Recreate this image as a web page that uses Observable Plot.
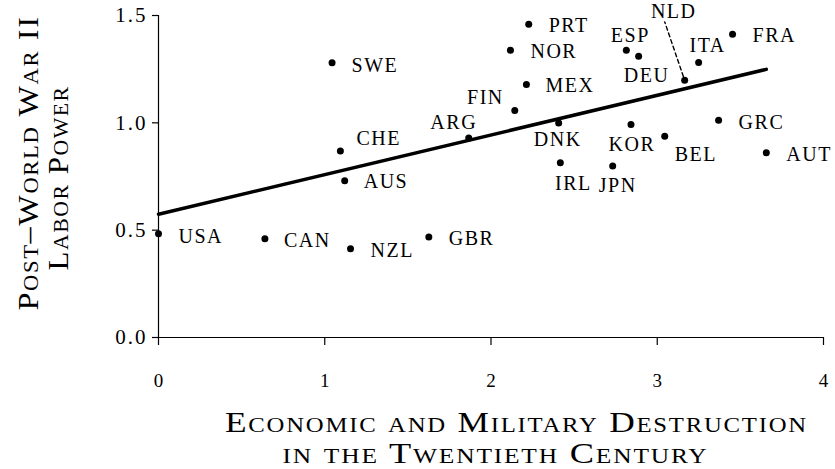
<!DOCTYPE html>
<html><head><meta charset="utf-8">
<script src="https://cdn.jsdelivr.net/npm/d3@7"></script>
<script src="https://cdn.jsdelivr.net/npm/@observablehq/plot@0.6"></script>
<style>
html,body{margin:0;padding:0;background:#fff;}
#chart svg{display:block;}
#chart svg, #chart svg text{font-family:'Liberation Serif','Times New Roman',serif;}
</style>
</head><body><div id="chart"></div>
<script>
// ---- data ----
const countries   = ["USA","CAN","NZL","GBR","SWE","CHE","AUS","ARG","FIN","MEX","NOR","PRT","DNK","IRL","JPN","KOR","ESP","DEU","NLD","ITA","FRA","BEL","GRC","AUT"];
const destruction = [0.00,0.64,1.155,1.626,1.044,1.094,1.12,1.866,2.143,2.213,2.117,2.227,2.407,2.417,2.732,2.842,2.814,2.888,3.165,3.249,3.453,3.045,3.369,3.656];
const laborPower  = [0.483,0.46,0.413,0.468,1.28,0.869,0.73,0.929,1.058,1.178,1.338,1.459,0.999,0.814,0.799,0.992,1.338,1.31,1.198,1.281,1.413,0.937,1.012,0.861];
const xTicks = [0,1,2,3,4];
const yTicks = [0,0.5,1,1.5];
const yTitle = ["Post–World War II", "Labor Power"];
const xTitle = ["Economic and Military Destruction", "in the Twentieth Century"];
const nldLeaderEnd = {x: 3.045, y: 1.47};

// label placement (pixel offsets from each dot)
const labelLayout = {
 USA:[20,3,"start"], CAN:[19,2,"start"], NZL:[20,2,"start"], GBR:[20,2,"start"],
 SWE:[19.5,2.5,"start"], CHE:[16,-12,"start"], AUS:[19,1,"start"], ARG:[-15,-15,"middle"],
 FIN:[-11,-12.5,"end"], MEX:[19,1,"start"], NOR:[20,1.5,"start"], PRT:[20,1,"start"],
 DNK:[-1,17,"middle"], IRL:[13,21,"middle"], JPN:[5,19.5,"middle"], KOR:[1,20,"middle"],
 ESP:[4,-14.5,"middle"], DEU:[8,19,"middle"], NLD:[-11,-68.5,"middle"], ITA:[9,-17,"middle"],
 FRA:[20,1.5,"start"], BEL:[10,18.5,"start"], GRC:[20,2.5,"start"], AUT:[20,2,"start"]
};

const data = countries.map((c,i)=>({code:c, x:destruction[i], y:laborPower[i]}));
const FONT = "Liberation Serif";

const labelMarks = data.map(d => {
  const [dx,dy,anchor] = labelLayout[d.code];
  return Plot.text([d], {x:"x", y:"y", text:"code", dx, dy, textAnchor:anchor, lineAnchor:"middle",
    fontSize:20, fontFamily:FONT, fill:"#000"});
});
const titleOpts = {text:d=>d, lineAnchor:"bottom", textAnchor:"middle", fontSize:30, fontFamily:FONT, fontVariant:"small-caps", fill:"#000"};

const plot = Plot.plot({
  width: 835, height: 469,
  marginLeft:158, marginRight:12, marginTop:15, marginBottom:132,
  x:{domain:[0,4]}, y:{domain:[0,1.5]},
  style:"font-family:'Liberation Serif',serif;color:#000;background:#fff;",
  marks:[
    Plot.ruleY([0], {stroke:"#000", strokeWidth:1.2}),
    Plot.ruleX([0], {stroke:"#000", strokeWidth:1.2}),
    Plot.axisX({ticks:xTicks, tickFormat:d=>String(d), tickSize:8, tickPadding:28, fontSize:19, fontFamily:FONT, label:null, stroke:"#000", strokeWidth:1.2}),
    Plot.axisY({ticks:yTicks, tickFormat:d=>d.toFixed(1), tickSize:6, tickPadding:5, fontSize:21, fontFamily:FONT, label:null, stroke:"#000", strokeWidth:1.2}),
    Plot.linearRegressionY(data, {x:"x", y:"y", ci:0, stroke:"#000", strokeWidth:3.5}),
    Plot.arrow(data.filter(d=>d.code==="NLD"), {x1:"x", y1:"y", x2:()=>nldLeaderEnd.x, y2:()=>nldLeaderEnd.y,
      headLength:0, insetStart:4, stroke:"#000", strokeWidth:1.4, strokeDasharray:"4,3"}),
    Plot.dot(data, {x:"x", y:"y", r:3.5, fill:"#000", stroke:"none"}),
    ...labelMarks,
    Plot.text([xTitle[0]], {...titleOpts, frameAnchor:"bottom", dx:25.5, dy:94}),
    Plot.text([xTitle[1]], {...titleOpts, frameAnchor:"bottom", dx:4.5, dy:125}),
    Plot.text([yTitle[0]], {...titleOpts, frameAnchor:"left", rotate:-90, dx:-121, dy:-13.5}),
    Plot.text([yTitle[1]], {...titleOpts, frameAnchor:"left", rotate:-90, dx:-91, dy:1.5})
  ]
});
document.getElementById("chart").appendChild(plot);

// fit title widths and letter spacing of labels / y ticks
const titleWidths = new Map([[xTitle[0],583],[xTitle[1],426],[yTitle[0],295],[yTitle[1],185]]);
const codeSet = new Set(countries);
const yTickSet = new Set(yTicks.map(d=>d.toFixed(1)));
d3.select(plot).selectAll("text").each(function(){
  const t = this.textContent;
  if (titleWidths.has(t)) {
    this.style.letterSpacing = "1.5px";
    this.setAttribute("textLength", titleWidths.get(t));
    this.setAttribute("lengthAdjust", "spacingAndGlyphs");
  } else if (codeSet.has(t)) {
    this.style.letterSpacing = "1.5px";
  } else if (yTickSet.has(t)) {
    this.style.letterSpacing = "2px";
  }
});
</script>
</body></html>
